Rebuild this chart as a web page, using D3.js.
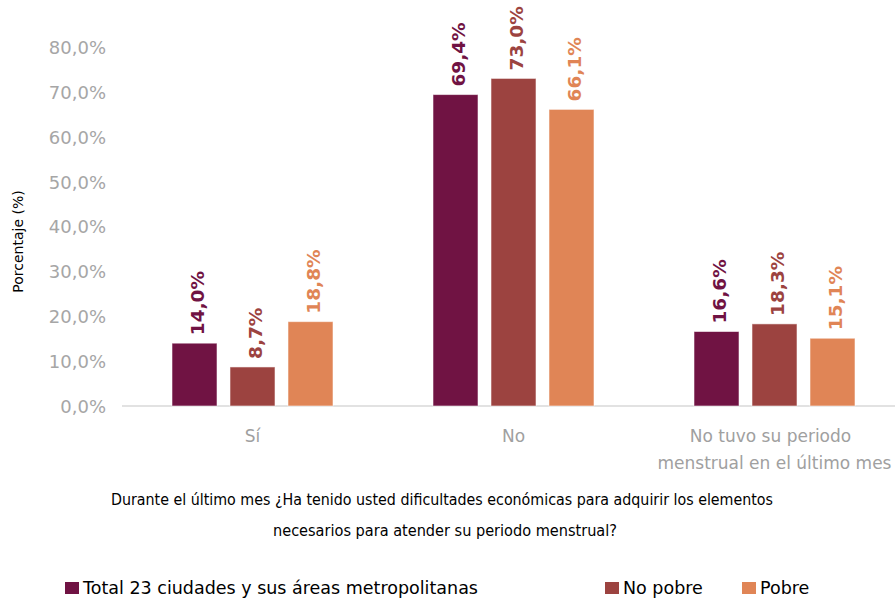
<!DOCTYPE html>
<html>
<head>
<meta charset="utf-8">
<script src="https://cdn.jsdelivr.net/npm/d3@7"></script>
<style>
  html, body { margin: 0; padding: 0; background: #fff; }
  svg { display: block; }
</style>
</head>
<body>
<svg id="chart" width="895" height="600"></svg>
<script>
const categories = ["Sí", "No", "No tuvo su periodo|menstrual en el último mes"];
const seriesNames = ["Total 23 ciudades y sus áreas metropolitanas", "No pobre", "Pobre"];
const seriesColors = ["#701343", "#9c4340", "#e08556"];
const totalValues = [14.0, 69.4, 16.6];
const noPobreValues = [8.7, 73.0, 18.3];
const pobreValues = [18.8, 66.1, 15.1];
const yTicks = [0, 10, 20, 30, 40, 50, 60, 70, 80];
const yTitle = "Porcentaje (%)";
const xTitleLines = ["Durante el último mes ¿Ha tenido usted dificultades económicas para adquirir los elementos",
                     "necesarios para atender su periodo menstrual?"];

const seriesValues = [totalValues, noPobreValues, pobreValues];
const fmt = v => d3.format(".1f")(v).replace(".", ",") + "%";

const svg = d3.select("#chart");
const font = "'DejaVu Sans', Verdana, sans-serif";

const y = d3.scaleLinear().domain([0, 80]).range([406, 47]);
const x = d3.scaleBand().domain(categories).range([122, 905]);
const xi = d3.scaleBand().domain(seriesNames).range([-80.5, 80.5]).paddingInner(0.224);

// axis line
svg.append("line")
  .attr("x1", 122).attr("x2", 895)
  .attr("y1", y(0)).attr("y2", y(0))
  .attr("stroke", "#d9d9d9").attr("stroke-width", 1.5);

// y ticks
const yAxis = d3.axisLeft(y).tickValues(yTicks).tickSize(0).tickPadding(0)
  .tickFormat(d => d3.format(".1f")(d).replace(".", ",") + "%");
const yg = svg.append("g").attr("transform", "translate(106,0)").call(yAxis);
yg.select(".domain").remove();
yg.selectAll("text")
  .attr("font-family", font).attr("font-size", 18)
  .attr("fill", "#a6a6a6").attr("dy", "0.36em");

// y title
svg.append("text")
  .attr("transform", `translate(23,${241.5}) rotate(-90)`)
  .attr("text-anchor", "middle")
  .attr("font-family", font).attr("font-size", 14).attr("fill", "#000")
  .text(yTitle);

// category labels
categories.forEach(c => {
  const cx = x(c) + x.bandwidth() / 2;
  const lines = c.split("|");
  lines.forEach((ln, i) => {
    svg.append("text")
      .attr("x", cx - (lines.length > 1 && i === 0 ? 4 : 0)).attr("y", 442 + i * 27)
      .attr("text-anchor", "middle")
      .attr("font-family", font).attr("font-size", 17)
      .attr("fill", "#a0a0a0")
      .text(ln);
  });
});

// bars & labels
const groups = svg.append("g");
categories.forEach((c, ci) => {
  const cx = x(c) + x.bandwidth() / 2;
  seriesNames.forEach((s, si) => {
    const v = seriesValues[si][ci];
    const bx = cx + xi(s);
    groups.append("rect")
      .attr("x", bx).attr("y", y(v))
      .attr("width", xi.bandwidth()).attr("height", y(0) - y(v))
      .attr("fill", seriesColors[si])
      .attr("stroke", "#ffffff").attr("stroke-opacity", 0.55).attr("stroke-width", 1);
    const lx = bx + xi.bandwidth() / 2 + 3;
    const ly = y(v) - 8;
    groups.append("text")
      .attr("transform", `translate(${lx},${ly}) rotate(-90)`)
      .attr("dy", "0.36em")
      .attr("text-anchor", "start")
      .attr("font-family", font).attr("font-size", 18.5).attr("font-weight", "bold")
      .attr("fill", seriesColors[si])
      .text(fmt(v));
  });
});

// x title
const titleWidths = [662, 344];
xTitleLines.forEach((ln, i) => {
  svg.append("text")
    .attr("x", 442 + i * 3).attr("y", 505 + i * 31)
    .attr("text-anchor", "middle")
    .attr("font-family", "'Liberation Sans Narrow', 'Arial Narrow', 'DejaVu Sans Condensed', sans-serif")
    .attr("font-size", 16).attr("fill", "#000")
    .attr("textLength", titleWidths[i]).attr("lengthAdjust", "spacingAndGlyphs")
    .text(ln);
});

// legend
const legendX = [65, 605, 742];
seriesNames.forEach((s, i) => {
  const g = svg.append("g").attr("transform", `translate(${legendX[i]},0)`);
  g.append("rect").attr("x", 0).attr("y", 582).attr("width", 14).attr("height", 12)
    .attr("fill", seriesColors[i]);
  g.append("text").attr("x", 18).attr("y", 594)
    .attr("font-family", font).attr("font-size", 17.5).attr("fill", "#000")
    .text(s);
});
</script>
</body>
</html>
